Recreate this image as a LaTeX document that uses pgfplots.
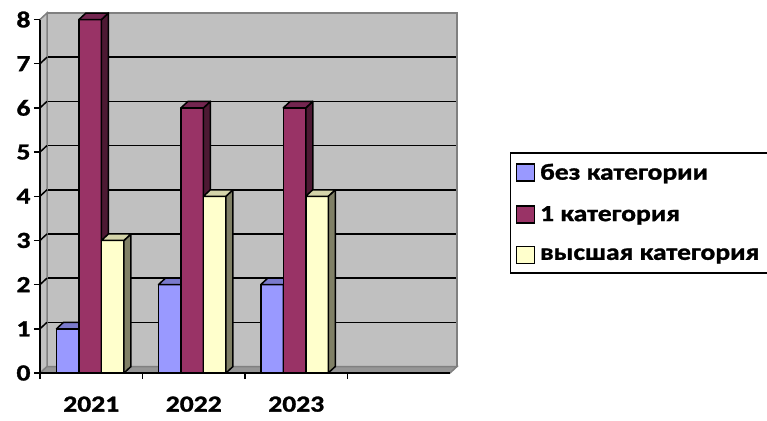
\documentclass[border=0pt]{standalone}
\usepackage{pgfplots}
\pgfplotsset{compat=1.18}
\usepackage{fontspec}
\setmainfont{Carlito}[FakeStretch=1.2, BoldFont={Carlito Bold}, BoldFeatures={FakeStretch=1.2, FakeBold=1.3}]

\definecolor{wall}{HTML}{C0C0C0}
\definecolor{wallrim}{HTML}{808080}
\definecolor{floorc}{HTML}{969696}
\definecolor{blueF}{HTML}{9999FF}
\definecolor{blueT}{HTML}{7A7ACC}
\definecolor{redF}{HTML}{993366}
\definecolor{redS}{HTML}{4D1933}
\definecolor{redT}{HTML}{732650}
\definecolor{yelF}{HTML}{FFFFCC}
\definecolor{yelS}{HTML}{808066}
\definecolor{yelT}{HTML}{D4D4AA}

\pgfdeclareplotmark{nix}{}
\newcommand\yu{44.1875}% pt per y unit
\newcommand\dx{7}
\newcommand\dy{6.5}
\newcommand\hw{11.25}

% a 3d bar drawn as a marker at the bar top: #1 front, #2 side, #3 top, #4 shift (pt)
\pgfplotsset{
  bar3d/.style n args={4}{
    only marks, scatter, mark=nix, forget plot,
    visualization depends on={rawy \as \barh},
    scatter/@pre marker code/.code={
      \begin{scope}[draw=black, line width=1.5pt, line join=round]
      \filldraw[fill=#1] ({#4pt-\hw pt},0pt) rectangle ({#4pt+\hw pt},{-\barh*\yu pt});
      \filldraw[fill=#2]
        ({#4pt+\hw pt},0pt) -- ({#4pt+\hw pt+\dx pt},\dy pt) -- ({#4pt+\hw pt+\dx pt},{\dy pt-\barh*\yu pt}) -- ({#4pt+\hw pt},{-\barh*\yu pt}) -- cycle;
      \filldraw[fill=#3]
        ({#4pt-\hw pt},0pt) -- ({#4pt+\hw pt},0pt) -- ({#4pt+\hw pt+\dx pt},\dy pt) -- ({#4pt-\hw pt+\dx pt},\dy pt) -- cycle;
      \end{scope}
    },
    scatter/@post marker code/.code={},
  },
}

\begin{document}
\begin{tikzpicture}
\useasboundingbox (0,0) rectangle (767pt,420pt);

% back wall, floor and side wall
\begin{axis}[
  at={(47pt,53.5pt)}, anchor=south west,
  scale only axis, width=410pt, height=353.5pt,
  xmin=0, xmax=4, ymin=0, ymax=8, clip=false,
  axis line style={draw=none},
  xtick=\empty, ytick={1,...,7}, yticklabels={},
  major tick length=0pt,
  ymajorgrids, grid style={black, line width=1.5pt},
  axis background/.style={fill=wall},
]
\draw[wallrim, line width=2.5pt] (axis cs:0,8) -- (axis cs:4,8) -- (axis cs:4,0);
\fill[wall] (axis cs:0,0) -- (axis cs:0,8) -- ([shift={(-7pt,-6.5pt)}]axis cs:0,8) -- ([shift={(-7pt,-6.5pt)}]axis cs:0,0) -- cycle;
\draw[wallrim, line width=1.5pt] ([shift={(-7pt,-6.5pt)}]axis cs:0,8) -- (axis cs:0,8) -- (axis cs:0,0);
\pgfplotsinvokeforeach{1,...,7}{
  \draw[black, line width=1.5pt] ([shift={(-7pt,-6.5pt)}]axis cs:0,#1) -- (axis cs:0,#1);
}
\fill[floorc] (axis cs:0,0) -- (axis cs:4,0) -- ([shift={(-7pt,-6.5pt)}]axis cs:4,0) -- ([shift={(-7pt,-6.5pt)}]axis cs:0,0) -- cycle;
\draw[wallrim, line width=1.5pt] ([shift={(-7pt,-6.5pt)}]axis cs:0,0) -- (axis cs:0,0) -- (axis cs:4,0) -- ([shift={(-7pt,-6.5pt)}]axis cs:4,0);
\end{axis}

% bars, axes, legend
\begin{axis}[
  at={(40pt,47pt)}, anchor=south west,
  scale only axis, width=410pt, height=353.5pt,
  xmin=0, xmax=4, ymin=0, ymax=8, clip=false,
  axis x line*=bottom, axis y line*=left,
  axis line style={black, line width=1.5pt},
  tick style={black, line width=1.5pt},
  tick align=outside, major tick length=6pt,
  ytick={0,...,8},
  xtick={0,1,2,3}, xticklabels={},
  extra x ticks={0.5,1.5,2.5},
  extra x tick labels={2021,2022,2023},
  extra x tick style={major tick length=0pt, xticklabel style={yshift=-20pt}},
  ticklabel style={font=\fontsize{23}{26}\selectfont\bfseries},
  /pgf/number format/assume math mode=true,
  legend image code/.code={\draw[#1, draw=black, line width=1.5pt] (0pt,-8.5pt) rectangle (18pt,8.5pt);},
  legend cell align=left,
  legend style={at={(1.146,0.625)}, anchor=north west, draw=black, line width=1.5pt,
    font=\fontsize{23}{26}\selectfont\bfseries, row sep=21pt,
    inner xsep=5pt, inner ysep=9pt,
    nodes={inner xsep=5pt}},
]
\addplot[bar3d={blueF}{blueF}{blueT}{-22.5}] coordinates {(0.49,1) (1.485,2) (2.483,2)};
\addplot[bar3d={redF}{redS}{redT}{0}] coordinates {(0.49,8) (1.485,6) (2.483,6)};
\addplot[bar3d={yelF}{yelS}{yelT}{22.5}] coordinates {(0.49,3) (1.485,4) (2.483,4)};
\addlegendimage{fill=blueF}
\addlegendentry{без категории}
\addlegendimage{fill=redF}
\addlegendentry{1 категория}
\addlegendimage{fill=yelF}
\addlegendentry{высшая категория\hspace{12pt}}
\end{axis}
\end{tikzpicture}
\end{document}
